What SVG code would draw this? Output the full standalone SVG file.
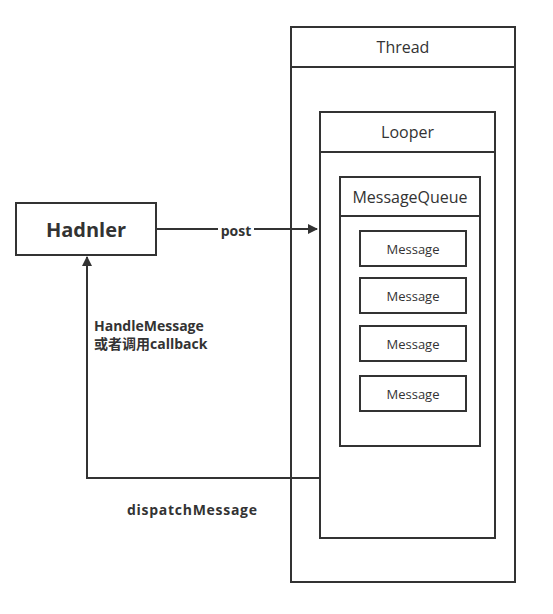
<svg xmlns="http://www.w3.org/2000/svg" width="553" height="614" viewBox="0 0 553 614">
<defs>
<style>
.box{fill:#fff;stroke:#333;stroke-width:2}
.ln{fill:none;stroke:#333;stroke-width:2}
.t{font-family:"Open Sans","Noto Sans CJK SC",sans-serif;fill:#333;text-anchor:middle;dominant-baseline:central}
.lbl{font-family:"Open Sans","Noto Sans CJK SC",sans-serif;fill:#333;font-weight:bold;font-size:14px}
</style>
<marker id="ah" markerWidth="10" markerHeight="10" refX="9" refY="5" orient="auto" markerUnits="userSpaceOnUse">
<path d="M0,0 L10,5 L0,10 Z" fill="#333"/>
</marker>
</defs>
<rect width="553" height="614" fill="#fff"/>
<g id="thread">
<rect class="box" x="291" y="27" width="224" height="555"/>
<line class="ln" x1="291" y1="67" x2="515" y2="67"/>
<text class="t" x="403" y="47" font-size="16">Thread</text>
</g>
<g id="looper">
<rect class="box" x="320" y="112" width="175" height="426"/>
<line class="ln" x1="320" y1="152" x2="495" y2="152"/>
<text class="t" x="407.5" y="132" font-size="16">Looper</text>
</g>
<g id="messagequeue">
<rect class="box" x="340" y="177" width="140" height="269"/>
<line class="ln" x1="340" y1="216" x2="480" y2="216"/>
<text class="t" x="410" y="196.5" font-size="16">MessageQueue</text>
</g>
<g id="msg1"><rect class="box" x="360" y="231" width="106" height="35"/><text class="t" x="413" y="248.5" font-size="13">Message</text></g>
<g id="msg2"><rect class="box" x="360" y="278" width="106" height="35"/><text class="t" x="413" y="295.5" font-size="13">Message</text></g>
<g id="msg3"><rect class="box" x="360" y="326" width="106" height="35"/><text class="t" x="413" y="343.5" font-size="13">Message</text></g>
<g id="msg4"><rect class="box" x="360" y="376" width="106" height="35"/><text class="t" x="413" y="393.5" font-size="13">Message</text></g>
<g id="handler">
<rect class="box" x="16" y="203" width="140" height="52"/>
<text class="t" x="86" y="229" font-size="20" font-weight="bold">Hadnler</text>
</g>
<g id="connectors">
<line class="ln" x1="156" y1="229" x2="317" y2="229" marker-end="url(#ah)"/>
<polyline class="ln" points="320,478 87,478 87,257" marker-end="url(#ah)"/>
</g>
<g id="labels">
<rect x="218" y="221" width="36" height="17" fill="#fff"/>
<text class="lbl" x="236" y="230" text-anchor="middle" dominant-baseline="central">post</text>
<text class="lbl" x="94" y="331">HandleMessage<tspan x="94" dy="18">或者调用callback</tspan></text>
<text class="lbl" x="127" y="515" font-size="15" textLength="130" lengthAdjust="spacing">dispatchMessage</text>
</g>
</svg>
